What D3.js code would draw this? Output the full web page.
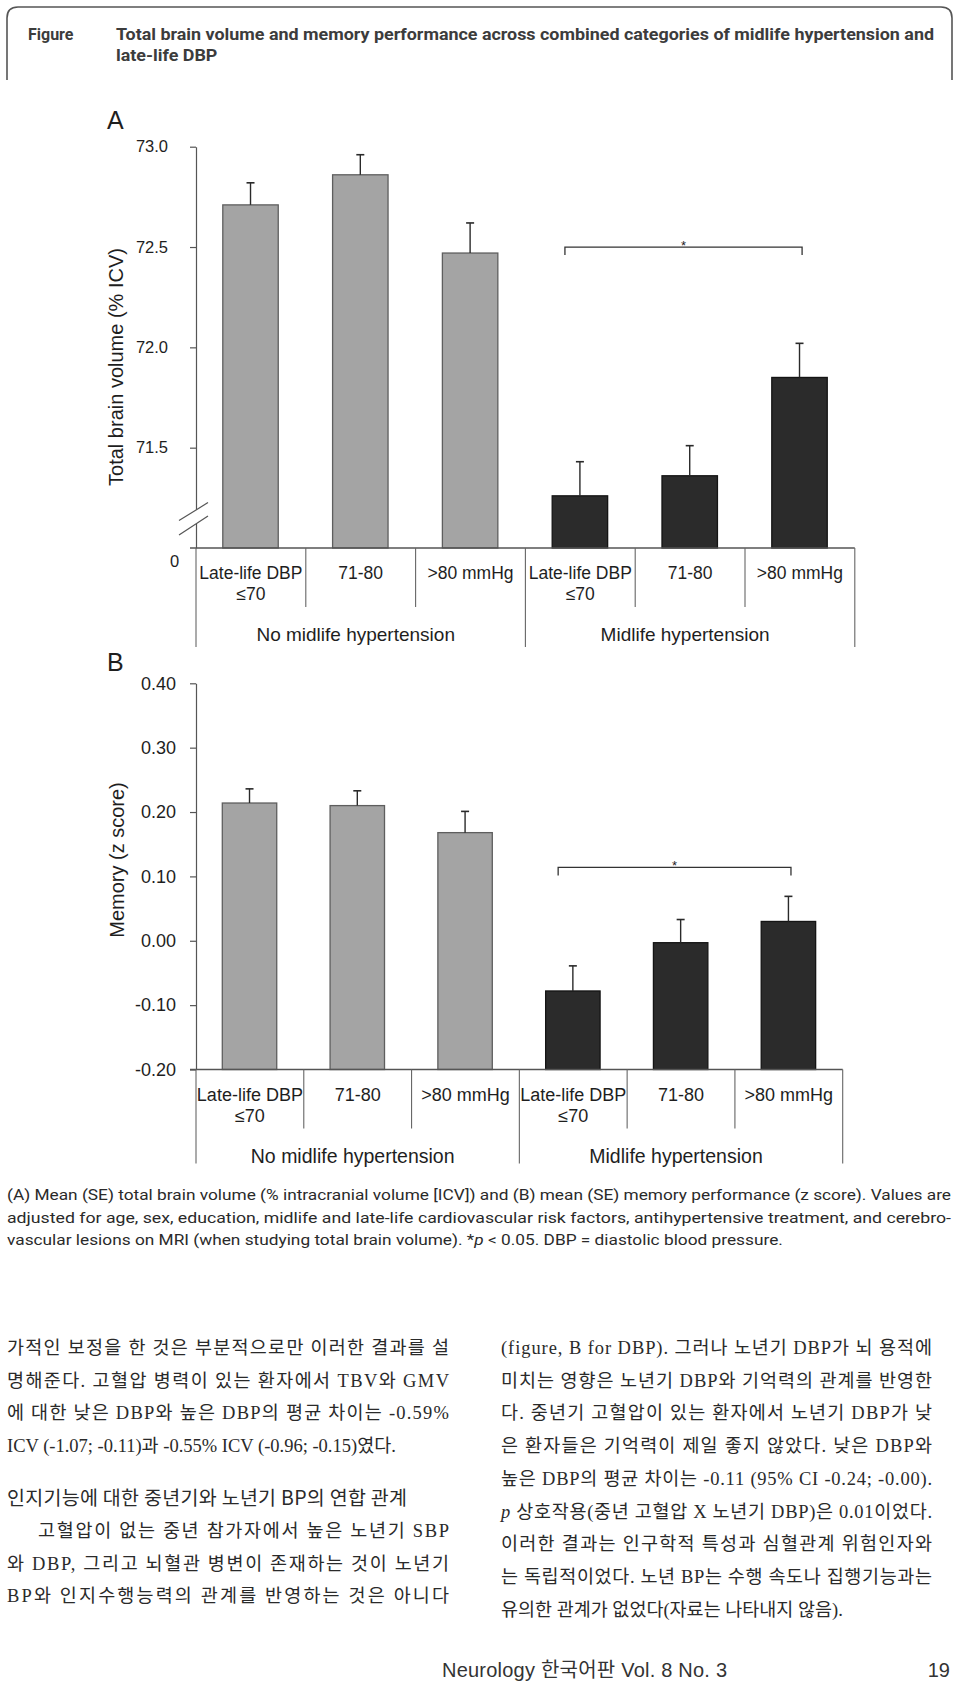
<!DOCTYPE html>
<html><head><meta charset="utf-8">
<script src="https://cdn.jsdelivr.net/npm/d3@7"></script>
<style>body{margin:0;background:#fff}svg{display:block}</style>
</head><body>
<svg id="c" width="960" height="1688"></svg>
<script>
// ---------- DATA ----------
const categories = ["noHT_low", "noHT_mid", "noHT_high", "HT_low", "HT_mid", "HT_high"];
const catLine1 = ["Late-life DBP", "71-80", ">80 mmHg", "Late-life DBP", "71-80", ">80 mmHg"];
const catLine2 = ["≤70", "", "", "≤70", "", ""];
const groups = ["No midlife hypertension", "Midlife hypertension"];
const groupOf = [0, 0, 0, 1, 1, 1];
const brainMean = [72.71, 72.86, 72.47, 71.26, 71.36, 71.85];
const brainSE = [0.11, 0.10, 0.15, 0.17, 0.15, 0.17];
const memoryMean = [0.214, 0.210, 0.168, -0.078, -0.003, 0.030];
const memorySE = [0.022, 0.023, 0.033, 0.039, 0.036, 0.039];
const brainTicks = [71.5, 72.0, 72.5, 73.0];
const memoryTicks = [-0.2, -0.1, 0.0, 0.1, 0.2, 0.3, 0.4];
const sigPair = ["HT_low", "HT_high"];
const sigLevelBrain = 72.50;
const sigLevelMemory = 0.114;

const titleLines = ["Total brain volume and memory performance across combined categories of midlife hypertension and", "late-life DBP"];
const captionLines = [
  "(A) Mean (SE) total brain volume (% intracranial volume [ICV]) and (B) mean (SE) memory performance (z score). Values are",
  "adjusted for age, sex, education, midlife and late-life cardiovascular risk factors, antihypertensive treatment, and cerebro-",
  "vascular lesions on MRI (when studying total brain volume). *_p_ < 0.05. DBP = diastolic blood pressure."
];
const bodyLeft = [
  "가적인 보정을 한 것은 부분적으로만 이러한 결과를 설",
  "명해준다. 고혈압 병력이 있는 환자에서 TBV와 GMV",
  "에 대한 낮은 DBP와 높은 DBP의 평균 차이는 -0.59%",
  "ICV (-1.07; -0.11)과 -0.55% ICV (-0.96; -0.15)였다."
];
const heading = "인지기능에 대한 중년기와 노년기 BP의 연합 관계";
const bodyLeft2 = [
  "고혈압이 없는 중년 참가자에서 높은 노년기 SBP",
  "와 DBP, 그리고 뇌혈관 병변이 존재하는 것이 노년기",
  "BP와 인지수행능력의 관계를 반영하는 것은 아니다"
];
const bodyRight = [
  "(figure, B for DBP). 그러나 노년기 DBP가 뇌 용적에",
  "미치는 영향은 노년기 DBP와 기억력의 관계를 반영한",
  "다. 중년기 고혈압이 있는 환자에서 노년기 DBP가 낮",
  "은 환자들은 기억력이 제일 좋지 않았다. 낮은 DBP와",
  "높은 DBP의 평균 차이는 -0.11 (95% CI -0.24; -0.00).",
  "_p_ 상호작용(중년 고혈압 X 노년기 DBP)은 0.01이었다.",
  "이러한 결과는 인구학적 특성과 심혈관계 위험인자와",
  "는 독립적이었다. 노년 BP는 수행 속도나 집행기능과는",
  "유의한 관계가 없었다(자료는 나타내지 않음)."
];
const footerText = "Neurology 한국어판 Vol. 8 No. 3";
const pageNumber = "19";

// ---------- DRAW ----------
const svg = d3.select("#c");
const SANS = "'Liberation Sans', Arial, sans-serif";
const INK = "#1e1e1e";

function addSegments(textSel, str) {
  str.split("_").forEach((s, i) => {
    if (!s) return;
    const t = textSel.append("tspan").text(s);
    if (i % 2 === 1) t.attr("font-style", "italic");
  });
}
function fit(sel, w) {
  const n = sel.node().getComputedTextLength();
  sel.attr("textLength", w).attr("lengthAdjust", n > w ? "spacingAndGlyphs" : "spacing");
  return n;
}

// frame + title
svg.append("path")
  .attr("d", "M7,80 V18 Q7,7 18,7 H941 Q952,7 952,18 V80")
  .attr("fill", "none").attr("stroke", "#555").attr("stroke-width", 1.6);
const TF = "Roboto, 'Liberation Sans', sans-serif";
svg.append("text").attr("x", 28).attr("y", 40).attr("font-family", TF).attr("font-weight", 700)
  .attr("font-size", 16).attr("fill", "#3c3c3c").text("Figure");
const t1 = svg.append("text").attr("x", 116).attr("y", 40).attr("font-family", TF).attr("font-weight", 700)
  .attr("font-size", 16).attr("fill", "#3c3c3c").text(titleLines[0]);
const n1 = t1.node().getComputedTextLength();
t1.attr("textLength", 818).attr("lengthAdjust", "spacingAndGlyphs");
const t2 = svg.append("text").attr("x", 116).attr("y", 61).attr("font-family", TF).attr("font-weight", 700)
  .attr("font-size", 16).attr("fill", "#3c3c3c").text(titleLines[1]);
const n2 = t2.node().getComputedTextLength();
t2.attr("textLength", n2 * 818 / n1).attr("lengthAdjust", "spacingAndGlyphs");

function panel(cfg) {
  const g = svg.append("g");
  const x = d3.scaleBand().domain(categories).range(cfg.xRange);
  const y = d3.scaleLinear().domain(cfg.yDomain).range(cfg.yRange);
  const base = cfg.yRange[0];
  const ax0 = cfg.xRange[0];
  const bw = x.bandwidth();
  const line = (x1, y1, x2, y2, w, c) => g.append("line").attr("x1", x1).attr("y1", y1).attr("x2", x2).attr("y2", y2)
    .attr("stroke", c || "#444").attr("stroke-width", w || 1.2);

  // panel letter
  g.append("text").attr("x", 107).attr("y", cfg.letterY).attr("font-family", SANS).attr("font-size", 25)
    .attr("fill", INK).text(cfg.letter);

  // bars
  g.selectAll("rect.bar").data(categories).join("rect").attr("class", "bar")
    .attr("x", c => x(c) + bw * 0.244).attr("width", bw * 0.505)
    .attr("y", (c, i) => y(cfg.mean[i])).attr("height", (c, i) => base - y(cfg.mean[i]))
    .attr("fill", (c, i) => groupOf[i] ? "#2b2b2b" : "#a4a4a4")
    .attr("stroke", (c, i) => groupOf[i] ? "#141414" : "#5e5e5e").attr("stroke-width", 1.3);

  // error bars (upper)
  categories.forEach((c, i) => {
    const cx = x(c) + bw * 0.4965;
    line(cx, y(cfg.mean[i]), cx, y(cfg.mean[i] + cfg.se[i]), 1.4, "#2a2a2a");
    line(cx - 4, y(cfg.mean[i] + cfg.se[i]), cx + 4, y(cfg.mean[i] + cfg.se[i]), 1.6, "#2a2a2a");
  });

  // y axis
  const axis = d3.axisLeft(y).tickValues(cfg.ticks).tickSize(6).tickSizeOuter(0)
    .tickPadding(cfg.pad).tickFormat(cfg.fmt);
  const axg = g.append("g").attr("transform", `translate(${ax0},0)`).call(axis);
  axg.select(".domain").attr("stroke", "#555").attr("stroke-width", 1.2);
  axg.selectAll(".tick line").attr("stroke", "#555").attr("stroke-width", 1.2);
  axg.selectAll(".tick text").attr("font-family", SANS).attr("font-size", cfg.tickFont).attr("fill", INK);

  // baseline
  line(ax0 - 6, base, cfg.xRange[1], base, 1.3, "#555");

  // axis break
  if (cfg.breakAt !== undefined) {
    const yb = y(cfg.breakAt);
    g.append("path")
      .attr("d", `M${ax0 - 17},${yb + 2.7} L${ax0 + 12},${yb - 15.3} L${ax0 + 12},${yb - 2} L${ax0 - 17},${yb + 17} Z`)
      .attr("fill", "#fff");
    line(ax0 - 17, yb + 2.7, ax0 + 12, yb - 15.3, 1.2, "#555");
    line(ax0 - 17, yb + 17, ax0 + 12, yb - 2, 1.2, "#555");
    g.append("text").attr("x", ax0 - 21.5).attr("y", base + 19).attr("text-anchor", "middle")
      .attr("font-family", SANS).attr("font-size", cfg.tickFont).attr("fill", INK).text("0");
  }

  // category table
  categories.forEach((c, i) => {
    const cx = x(c) + bw / 2;
    if (i > 0) {
      const isGroupEdge = groupOf[i] !== groupOf[i - 1];
      line(x(c), base, x(c), base + (isGroupEdge ? cfg.groupDrop : 59), 1.1, "#666");
    }
    g.append("text").attr("x", cx).attr("y", base + 31).attr("text-anchor", "middle")
      .attr("font-family", SANS).attr("font-size", cfg.catFont).attr("fill", INK).text(catLine1[i]);
    if (catLine2[i]) g.append("text").attr("x", cx).attr("y", base + 52).attr("text-anchor", "middle")
      .attr("font-family", SANS).attr("font-size", cfg.catFont).attr("fill", INK).text(catLine2[i]);
  });
  line(ax0, base, ax0, base + cfg.groupDrop, 1.1, "#666");
  line(cfg.xRange[1], base, cfg.xRange[1], base + cfg.groupDrop, 1.1, "#666");
  groups.forEach((gname, gi) => {
    const members = categories.filter((c, i) => groupOf[i] === gi);
    const gx0 = x(members[0]), gx1 = x(members[members.length - 1]) + bw;
    g.append("text").attr("x", (gx0 + gx1) / 2 - 5).attr("y", base + 93).attr("text-anchor", "middle")
      .attr("font-family", SANS).attr("font-size", cfg.groupFont).attr("fill", INK).text(gname);
  });

  // significance bracket
  const sx0 = x(sigPair[0]) + bw * 0.36, sx1 = x(sigPair[1]) + bw * 0.52, sy = y(cfg.sigLevel);
  g.append("path").attr("d", `M${sx0},${sy + 8} V${sy} H${sx1} V${sy + 8}`)
    .attr("fill", "none").attr("stroke", "#333").attr("stroke-width", 1.3);
  g.append("text").attr("x", (sx0 + sx1) / 2).attr("y", sy + 3).attr("text-anchor", "middle")
    .attr("font-family", SANS).attr("font-size", 13).attr("fill", INK).text("*");

  // y axis title
  g.append("text").attr("transform", `translate(${cfg.titleX},${cfg.titleY}) rotate(-90)`)
    .attr("text-anchor", "middle").attr("dy", "0.35em")
    .attr("font-family", SANS).attr("font-size", 20).attr("fill", INK).text(cfg.yTitle);
}

panel({
  letter: "A", letterY: 129,
  xRange: [196, 854.8], yDomain: [71.0, 73.0], yRange: [548, 146.7],
  mean: brainMean, se: brainSE, ticks: brainTicks, fmt: d => d.toFixed(1),
  pad: 22, tickFont: 16.5, catFont: 17.5, groupFont: 19, groupDrop: 99,
  breakAt: 71.15, sigLevel: sigLevelBrain,
  yTitle: "Total brain volume (% ICV)", titleX: 116, titleY: 367
});
panel({
  letter: "B", letterY: 671,
  xRange: [196, 842.7], yDomain: [-0.2, 0.4], yRange: [1069.5, 683.3],
  mean: memoryMean, se: memorySE, ticks: memoryTicks, fmt: d => d.toFixed(2),
  pad: 14, tickFont: 18, catFont: 18, groupFont: 19.5, groupDrop: 94,
  sigLevel: sigLevelMemory,
  yTitle: "Memory (z score)", titleX: 117, titleY: 860
});

// caption
const CF = "Roboto, 'Liberation Sans', sans-serif";
let capRatio = 1;
captionLines.forEach((s, i) => {
  const t = svg.append("text").attr("x", 7).attr("y", 1200 + i * 22.5).attr("font-family", CF)
    .attr("font-size", 15).attr("fill", "#2a2a2a");
  addSegments(t, s);
  const n = t.node().getComputedTextLength();
  if (i < 2) { if (i === 0) capRatio = 944 / n; t.attr("textLength", 944).attr("lengthAdjust", "spacingAndGlyphs"); }
  else t.attr("textLength", n * capRatio).attr("lengthAdjust", "spacingAndGlyphs");
});

// body text (two columns)
const BF = "'Liberation Serif', 'Noto Sans CJK KR', serif";
function bodyLine(s, x0, y0, w, justify) {
  const t = svg.append("text").attr("x", x0).attr("y", y0).attr("font-family", BF)
    .attr("font-size", 18.5).attr("fill", "#2a2a2a");
  addSegments(t, s);
  if (justify) fit(t, w);
  return t;
}
bodyLeft.forEach((s, i) => bodyLine(s, 7, 1354 + i * 32.7, 442, i < 3));
const h = svg.append("text").attr("x", 7).attr("y", 1505).attr("font-family", "'Noto Sans CJK KR', sans-serif")
  .attr("font-size", 19.5).attr("fill", "#2a2a2a").text(heading);
fit(h, 400);
bodyLeft2.forEach((s, i) => bodyLine(s, i === 0 ? 38 : 7, 1537 + i * 32.7, i === 0 ? 411 : 442, true));
bodyRight.forEach((s, i) => bodyLine(s, 501, 1354 + i * 32.7, 431, i < 8));

// footer
const ft = svg.append("text").attr("x", 442).attr("y", 1677).attr("font-family", "'Liberation Sans', 'Noto Sans CJK KR', sans-serif")
  .attr("font-size", 20).attr("fill", "#333").text(footerText);
fit(ft, 285);
svg.append("text").attr("x", 950).attr("y", 1677).attr("text-anchor", "end")
  .attr("font-family", SANS).attr("font-size", 20).attr("fill", "#333").text(pageNumber);
</script>
</body></html>
